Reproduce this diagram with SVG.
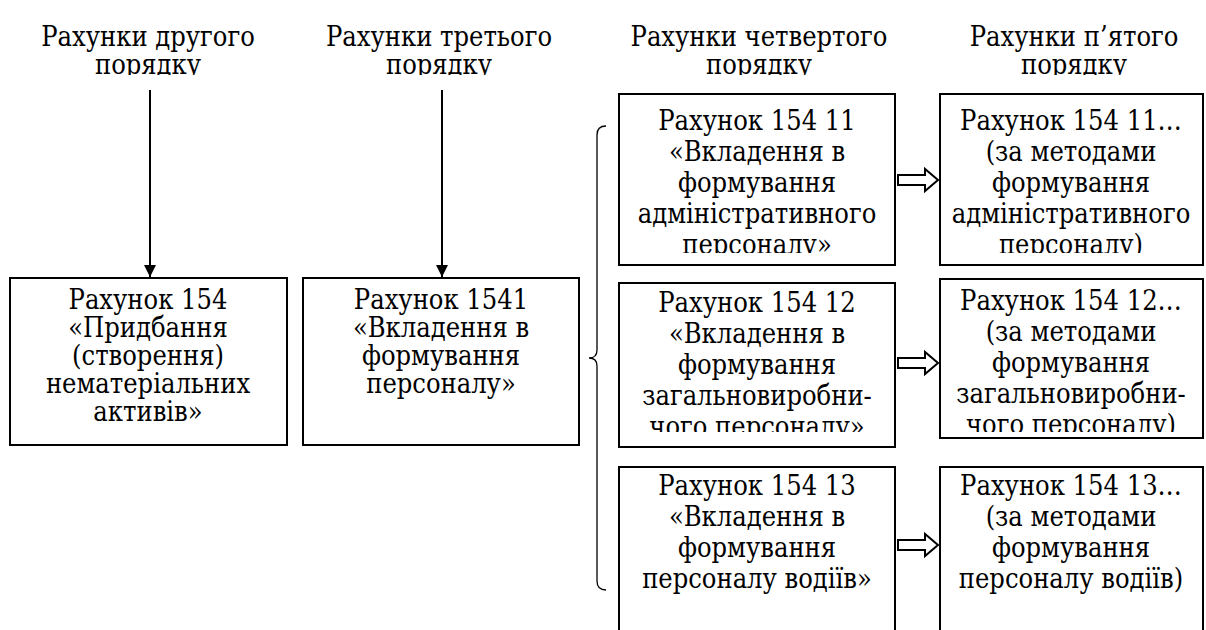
<svg xmlns="http://www.w3.org/2000/svg" width="1206" height="630" viewBox="0 0 1206 630">
<style>
.t{font-family:"DejaVu Serif Condensed","DejaVu Serif","Liberation Serif",serif;font-stretch:condensed;font-size:27px;fill:#000;text-anchor:middle}
.box{fill:#fff;stroke:#000;stroke-width:2}
.ln{stroke:#000;stroke-width:2;fill:none}
.br{stroke:#000;stroke-width:1.3;fill:none}
.blk{fill:#fff;stroke:#000;stroke-width:2;stroke-linejoin:miter}
</style>
<defs>
<marker id="ah" viewBox="0 0 10 10" refX="10" refY="5" markerWidth="6" markerHeight="6" orient="auto" markerUnits="strokeWidth">
<path d="M0,0 L10,5 L0,10 z" fill="#000"/>
</marker>
<clipPath id="cH"><rect x="0" y="0" width="1206" height="75"/></clipPath>
<clipPath id="c1"><rect x="0" y="94" width="1206" height="159"/></clipPath>
<clipPath id="c2"><rect x="0" y="279" width="1206" height="153"/></clipPath>
</defs>
<g id="headers" clip-path="url(#cH)">
<text class="t" x="148" y="46">Рахунки другого</text>
<text class="t" x="148" y="74">порядку</text>
<text class="t" x="439" y="46">Рахунки третього</text>
<text class="t" x="439" y="74">порядку</text>
<text class="t" x="759" y="46">Рахунки четвертого</text>
<text class="t" x="759" y="74">порядку</text>
<text class="t" x="1074" y="46">Рахунки п’ятого</text>
<text class="t" x="1074" y="74">порядку</text>
</g>
<g id="connectors">
<line class="ln" x1="150" y1="90" x2="150" y2="277" marker-end="url(#ah)"/>
<line class="ln" x1="442" y1="90" x2="442" y2="277" marker-end="url(#ah)"/>
<path class="br" d="M606,126 Q597,126 597,135 L597,350 Q597,358 589,358 Q597,358 597,366 L597,581 Q597,590 606,590"/>
<polygon class="blk" points="898,175 925,175 925,169 938,180 925,191 925,185 898,185"/>
<polygon class="blk" points="898,358 925,358 925,352 938,363 925,374 925,368 898,368"/>
<polygon class="blk" points="898,540 925,540 925,534 938,545 925,556 925,550 898,550"/>
</g>
<g id="n154">
<rect class="box" x="10" y="278" width="277" height="167"/>
<text class="t" x="148" y="309">Рахунок 154</text>
<text class="t" x="148" y="337">«Придбання</text>
<text class="t" x="148" y="365">(створення)</text>
<text class="t" x="148" y="393">нематеріальних</text>
<text class="t" x="148" y="421">активів»</text>
</g>
<g id="n1541">
<rect class="box" x="303" y="278" width="276" height="167"/>
<text class="t" x="441" y="309">Рахунок 1541</text>
<text class="t" x="441" y="337">«Вкладення в</text>
<text class="t" x="441" y="365">формування</text>
<text class="t" x="441" y="393">персоналу»</text>
</g>
<g id="n15411">
<rect class="box" x="619" y="94" width="276" height="171"/>
<g clip-path="url(#c1)">
<text class="t" x="757" y="130">Рахунок 154 11</text>
<text class="t" x="757" y="161">«Вкладення в</text>
<text class="t" x="757" y="192">формування</text>
<text class="t" x="757" y="223">адміністративного</text>
<text class="t" x="757" y="254">персоналу»</text>
</g>
</g>
<g id="n15411m">
<rect class="box" x="940" y="94" width="263" height="171"/>
<g clip-path="url(#c1)">
<text class="t" x="1071" y="130">Рахунок 154 11…</text>
<text class="t" x="1071" y="161">(за методами</text>
<text class="t" x="1071" y="192">формування</text>
<text class="t" x="1071" y="223">адміністративного</text>
<text class="t" x="1071" y="254">персоналу)</text>
</g>
</g>
<g id="n15412">
<rect class="box" x="619" y="283" width="276" height="164"/>
<g clip-path="url(#c2)">
<text class="t" x="757" y="312">Рахунок 154 12</text>
<text class="t" x="757" y="343">«Вкладення в</text>
<text class="t" x="757" y="374">формування</text>
<text class="t" x="757" y="405">загальновиробни-</text>
<text class="t" x="757" y="436">чого персоналу»</text>
</g>
</g>
<g id="n15412m">
<rect class="box" x="940" y="279" width="263" height="159"/>
<g clip-path="url(#c2)">
<text class="t" x="1071" y="310">Рахунок 154 12…</text>
<text class="t" x="1071" y="341">(за методами</text>
<text class="t" x="1071" y="372">формування</text>
<text class="t" x="1071" y="403">загальновиробни-</text>
<text class="t" x="1071" y="434">чого персоналу)</text>
</g>
</g>
<g id="n15413">
<rect class="box" x="619" y="467" width="276" height="180"/>
<text class="t" x="757" y="495">Рахунок 154 13</text>
<text class="t" x="757" y="526">«Вкладення в</text>
<text class="t" x="757" y="557">формування</text>
<text class="t" x="757" y="588">персоналу водіїв»</text>
</g>
<g id="n15413m">
<rect class="box" x="940" y="467" width="263" height="180"/>
<text class="t" x="1071" y="495">Рахунок 154 13…</text>
<text class="t" x="1071" y="526">(за методами</text>
<text class="t" x="1071" y="557">формування</text>
<text class="t" x="1071" y="588">персоналу водіїв)</text>
</g>
</svg>
